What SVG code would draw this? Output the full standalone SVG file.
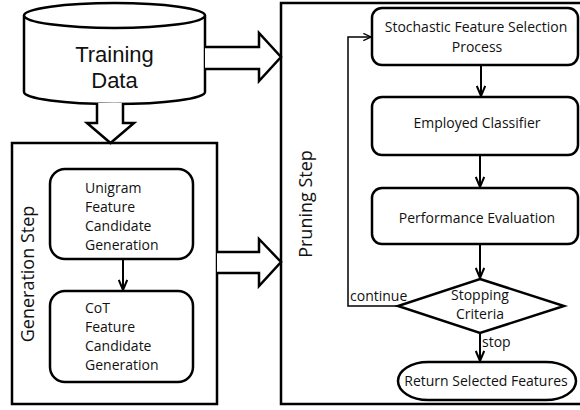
<svg xmlns="http://www.w3.org/2000/svg" width="580" height="410" viewBox="0 0 580 410">
<style>
.box{fill:#fff;stroke:#000;stroke-width:2.5}
.blk{fill:#fff;stroke:#000;stroke-width:2.5;stroke-linejoin:miter}
.t{font-family:"Open Sans","Liberation Sans",sans-serif;font-size:14px;fill:#111}
.c{text-anchor:middle}
.big{font-family:"Liberation Sans",Arial,sans-serif;font-size:22px;font-weight:normal}
.lbl{font-size:18px}
.ln{fill:none;stroke:#000;stroke-width:2}
.thin{fill:none;stroke:#000;stroke-width:1.5}
</style>
<defs>
<marker id="ah" viewBox="0 0 12 10" refX="11" refY="5" markerWidth="12" markerHeight="10" markerUnits="userSpaceOnUse" orient="auto">
<polyline points="1,0.8 11,5 1,9.2" fill="none" stroke="#000" stroke-width="2"/>
</marker>
<marker id="ahs" viewBox="0 0 10 10" refX="9.5" refY="5" markerWidth="10" markerHeight="9" markerUnits="userSpaceOnUse" orient="auto">
<polyline points="1,1 9.5,5 1,9" fill="none" stroke="#000" stroke-width="1.5"/>
</marker>
</defs>
<rect width="580" height="410" fill="#fff"/>

<g id="training-data">
<path class="box" d="M24,15.5 V92 A90.5,12 0 0 0 205,92 V15.5"/>
<ellipse class="box" cx="114.5" cy="15.5" rx="90.5" ry="12.5"/>
<text class="t big c" x="114.5" y="62">Training</text>
<text class="t big c" x="114.5" y="87.5">Data</text>
</g>

<g id="generation-step">
<rect class="box" x="12" y="143" width="205" height="261"/>
<text class="t lbl c" transform="translate(34,274) rotate(-90)">Generation Step</text>
</g>

<g id="pruning-step">
<rect class="box" x="281" y="3" width="320" height="401"/>
<text class="t lbl c" transform="translate(312,204) rotate(-90)">Pruning Step</text>
</g>

<g id="unigram">
<rect class="box" x="50" y="169" width="143" height="90" rx="15"/>
<text class="t" x="85" y="193">Unigram</text>
<text class="t" x="85" y="212">Feature</text>
<text class="t" x="85" y="231">Candidate</text>
<text class="t" x="85" y="250">Generation</text>
</g>

<g id="cot">
<rect class="box" x="50" y="291" width="143" height="91" rx="15"/>
<text class="t" x="85" y="313">CoT</text>
<text class="t" x="85" y="332">Feature</text>
<text class="t" x="85" y="351">Candidate</text>
<text class="t" x="85" y="370">Generation</text>
</g>

<g id="stochastic">
<rect class="box" x="372" y="8" width="206" height="57" rx="10"/>
<text class="t c" x="476" y="32">Stochastic Feature Selection</text>
<text class="t c" x="477" y="52">Process</text>
</g>

<g id="classifier">
<rect class="box" x="372" y="97" width="206" height="58" rx="10"/>
<text class="t c" x="477" y="128">Employed Classifier</text>
</g>

<g id="performance">
<rect class="box" x="372" y="188" width="206" height="56" rx="10"/>
<text class="t c" x="477" y="223">Performance Evaluation</text>
</g>

<g id="stopping">
<polygon class="box" points="480,279 564,306 480,333 398,306"/>
<text class="t c" x="480" y="300">Stopping</text>
<text class="t c" x="480" y="319">Criteria</text>
</g>

<g id="return">
<rect class="box" x="398" y="362" width="178" height="38" rx="30" ry="19"/>
<text class="t c" x="486" y="386">Return Selected Features</text>
</g>

<g id="connectors">
<path class="blk" d="M97,103 V123 H87 L110.5,143 L134,123 H123 V103"/>
<path class="blk" d="M205,47 H259 V33 L281,57 L259,81 V69 H205"/>
<path class="blk" d="M217,252 H259 V239 L281,262 L259,286 V273 H217"/>
<line class="ln" x1="123" y1="259" x2="123" y2="290" marker-end="url(#ah)"/>
<line class="ln" x1="481" y1="65" x2="481" y2="96" marker-end="url(#ah)"/>
<line class="ln" x1="480" y1="155" x2="480" y2="187" marker-end="url(#ah)"/>
<line class="ln" x1="480" y1="244" x2="480" y2="278" marker-end="url(#ah)"/>
<line class="ln" x1="480" y1="333" x2="480" y2="361" marker-end="url(#ah)"/>
<polyline class="thin" points="398,306 348,306 348,37 371,37" marker-end="url(#ahs)"/>
<text class="t" x="350" y="301">continue</text>
<text class="t" x="482" y="347">stop</text>
</g>
</svg>
